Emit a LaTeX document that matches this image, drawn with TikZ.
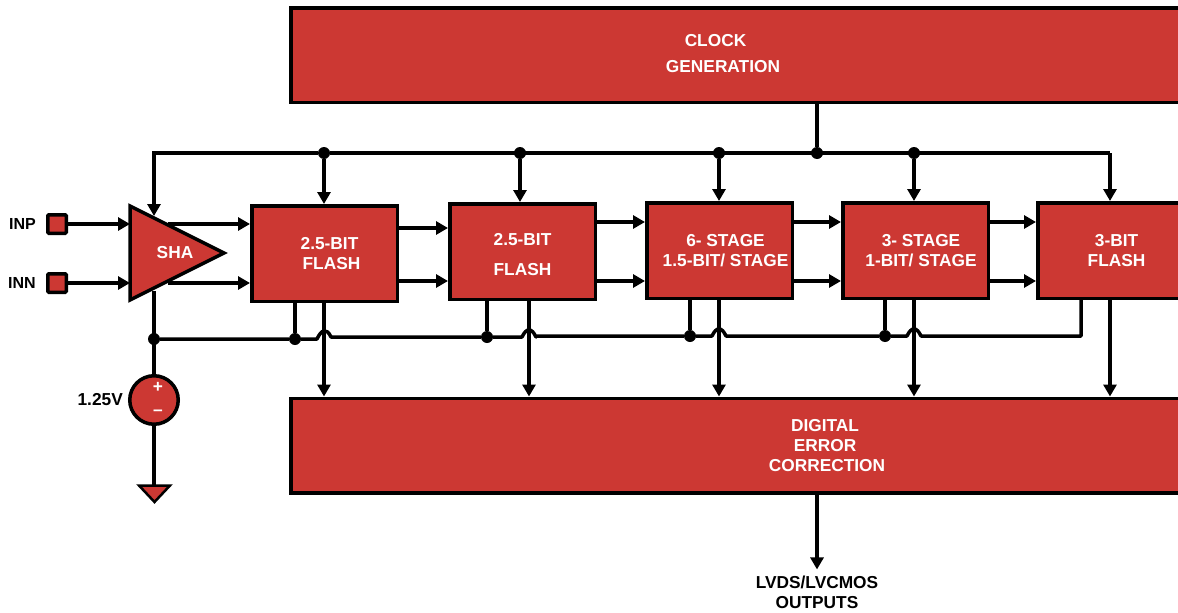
\documentclass[tikz,border=0pt]{standalone}
\usepackage{fontspec}
\setmainfont{Liberation Sans}
\usepackage{tikz}
\usetikzlibrary{shapes.geometric, arrows.meta, positioning, calc}
\definecolor{blockred}{HTML}{CC3833}
\newcommand{\lblfont}{\fontsize{17.3}{20}\selectfont\bfseries}
\newcommand{\pinfont}{\fontsize{16}{20}\selectfont\bfseries}
\newcommand{\offset}[1]{\hspace*{#1pt}}

\begin{document}
\begin{tikzpicture}[
  x=1pt, y=-1pt,
  node distance=49pt,
  every node/.style={font=\lblfont},
  block/.style={rectangle, draw=black, line width=3.5pt, fill=blockred, text=white, minimum width=145.5pt, minimum height=95.5pt, align=center, inner sep=0pt},
  wide/.style={rectangle, draw=black, line width=3.5pt, fill=blockred, minimum width=910pt, minimum height=94.5pt, anchor=west},
  whitetext/.style={text=white, align=center, inner sep=0pt},
  pad/.style={rectangle, draw=black, line width=3.5pt, rounded corners=1pt, fill=blockred, minimum size=18.5pt, inner sep=0pt},
  tri/.style={draw=black, line width=3.5pt, fill=blockred, line join=miter},
  dot/.style={circle, fill=black, minimum size=12pt, inner sep=0pt},
  arrow/.style={-{Triangle[length=12pt, width=13pt]}, line width=3.5pt},
  wire/.style={line width=3.5pt},
  hop/.style={out=65, in=115, looseness=1.9}
]
\useasboundingbox (0,0) rectangle (1178,613);

% Clock and correction blocks
\node[wide] (clock) at (289,55) {};
\node[whitetext] (clockText) at (723,54) {\offset{-15}CLOCK\\[6pt]GENERATION};
\node[wide] (correction) at (289,445.5) {};
\node[whitetext] (correctionText) at (827,446) {\offset{-4}DIGITAL\\\offset{-4}ERROR\\CORRECTION};

% Pipeline stages
\node[block] (flashA) at (324.5,253.5) {\offset{10}2.5-BIT\\\offset{14}FLASH};
\node[block, right=49pt of flashA, yshift=2pt] (flashB) {\rule{0pt}{18pt}2.5-BIT\\[10pt]FLASH};
\node[block, right=48pt of flashB, yshift=1pt] (stageA) {\offset{12}6- STAGE\\\offset{12}1.5-BIT/ STAGE};
\node[block, right=47pt of stageA] (stageB) {\offset{11}3- STAGE\\\offset{11}1-BIT/ STAGE};
\node[block, right=46pt of stageB] (flashC) {\offset{12}3-BIT\\\offset{12}FLASH};

% Sample and hold with inputs
\draw[tri] (130,206) coordinate (shaTop) -- (224,253) coordinate (shaTip) -- (130,300) coordinate (shaBot) -- cycle;
\node[whitetext] (shaText) at (175,253) {SHA};
\node[pad] (padP) at (57,224) {};
\node[pad] (padN) at (57,283) {};
\node[left=10pt of padP, inner sep=0pt, font=\pinfont] (inp) {INP};
\node[left=10pt of padN, inner sep=0pt, font=\pinfont] (inn) {INN};
\coordinate (shaP) at (130,224);
\coordinate (shaN) at (130,283);
\coordinate (shaPout) at (168,224);
\coordinate (shaNout) at (168,283);
\draw[arrow] (padP) -- (shaP);
\draw[arrow] (padN) -- (shaN);
\draw[arrow] (shaPout) -- (shaPout -| flashA.west);
\draw[arrow] (shaNout) -- (shaNout -| flashA.west);

% Reference and ground
\node[circle, draw=black, line width=3.5pt, fill=blockred, minimum size=48.5pt, inner sep=0pt] (vref) at (154,400) {};
\node[text=white, inner sep=0pt] (vplus) at (158,387) {+};
\node[text=white, inner sep=0pt] (vminus) at (158,413) {--};
\node[left=5pt of vref, inner sep=0pt] (vlabel) {1.25V};
\draw[tri, line width=2.5pt] (139,485.5) coordinate (gndL) -- (170,485.5) coordinate (gndR) -- (154.5,502) -- cycle;
\coordinate (gnd) at (154,485.5);
\draw[wire] (vref) -- (gnd);

% Stage to stage arrows
\foreach \src/\dst/\upper/\lower in {flashA/flashB/228/281, flashB/stageA/222/281, stageA/stageB/222/281, stageB/flashC/222/281} {
  \draw[arrow] (\src.east |- 0,\upper) -- (\dst.west |- 0,\upper);
  \draw[arrow] (\src.east |- 0,\lower) -- (\dst.west |- 0,\lower);
}

% Clock bus
\node[dot] (busClock) at (817,153) {};
\node[dot] (busA) at (324,153) {};
\node[dot] (busB) at (520,153) {};
\node[dot] (busC) at (719,153) {};
\node[dot] (busD) at (914,153) {};
\coordinate (busEnd) at (1110,153);
\coordinate (shaClk) at (154,216);
\draw[wire] (clock.south -| busClock) -- (busClock);
\draw[arrow] (busEnd) -- (busEnd |- flashC.north);
\draw[arrow, line join=miter] (busEnd) -- (busA) -- (busA -| shaClk) -- (shaClk);
\draw[arrow] (busA) -- (busA |- flashA.north);
\draw[arrow] (busB) -- (busB |- flashB.north);
\draw[arrow] (busC) -- (busC |- stageA.north);
\draw[arrow] (busD) -- (busD |- flashC.north);

% Common mode bus
\node[dot] (cmRoot) at (154,339) {};
\node[dot] (cmA) at (295,339) {};
\node[dot] (cmB) at (487,337) {};
\node[dot] (cmC) at (690,336) {};
\node[dot] (cmD) at (885,336) {};
\coordinate (cmEnd) at (1081,336);
\coordinate (hopA) at (324,339);
\coordinate (hopB) at (529,337);
\coordinate (hopC) at (719,336);
\coordinate (hopD) at (914,336);
\draw[wire] (154,291) -- (vref);
\draw[wire, line join=round] (cmRoot) -- (cmA) -- ([xshift=-7pt]hopA) to[hop] ([xshift=7pt,yshift=2pt]hopA)
  -- (cmB) -- ([xshift=-7pt]hopB) to[hop] ([xshift=7pt]hopB)
  -- ([xshift=7pt]hopB |- cmC) -- (cmC) -- ([xshift=-7pt]hopC) to[hop] ([xshift=7pt]hopC)
  -- (cmD) -- ([xshift=-7pt]hopD) to[hop] ([xshift=7pt]hopD)
  -- (cmEnd) -- (cmEnd |- flashC.south);
\draw[wire] (cmA) -- (cmA |- flashA.south);
\draw[wire] (cmB) -- (cmB |- flashB.south);
\draw[wire] (cmC) -- (cmC |- stageA.south);
\draw[wire] (cmD) -- (cmD |- stageB.south);

% Outputs to correction
\draw[arrow] (hopA |- flashA.south) -- (hopA |- correction.north);
\draw[arrow] (hopB |- flashB.south) -- (hopB |- correction.north);
\draw[arrow] (hopC |- stageA.south) -- (hopC |- correction.north);
\draw[arrow] (hopD |- stageB.south) -- (hopD |- correction.north);
\draw[arrow] (busEnd |- flashC.south) -- (busEnd |- correction.north);

% Output
\node[align=center, inner sep=0pt] (outputs) at (817,592) {LVDS/LVCMOS\\OUTPUTS};
\draw[arrow] (correction.south -| outputs) -- ([yshift=6pt]outputs.north);

\end{tikzpicture}
\end{document}
